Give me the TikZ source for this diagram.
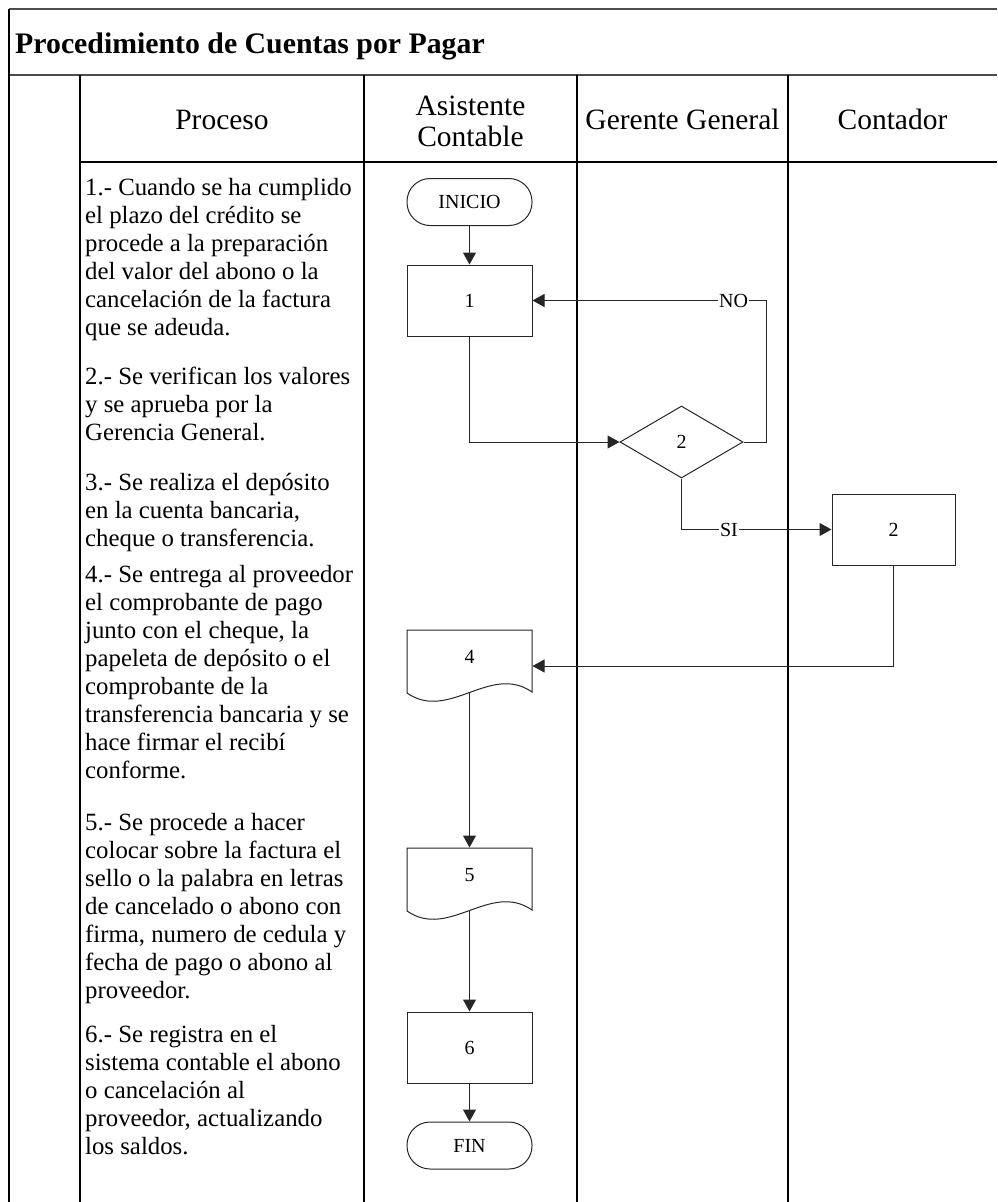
\documentclass[tikz,border=0pt]{standalone}
\usepackage{fontspec}
\setmainfont{Liberation Serif}
\usetikzlibrary{shapes.geometric,arrows.meta,calc}

\begin{document}
\begin{tikzpicture}[x=1pt,y=-1pt,
  grid/.style={line width=1.2pt,draw=black},
  framerule/.style={line width=1.8pt,draw=black!70},
  flow/.style={draw=black!85,line width=1pt,font=\fontsize{20}{22}\selectfont,inner sep=0pt},
  procbox/.style={flow,rectangle,minimum width=125pt,minimum height=71pt},
  termbox/.style={flow,rectangle,rounded corners=23pt,minimum width=125pt,minimum height=47pt},
  decbox/.style={flow,diamond,minimum width=123pt,minimum height=72pt},
  docbox/.style={flow,draw=none,rectangle,minimum width=125pt,minimum height=72pt,text height=13pt,text depth=18pt},
  docline/.style={draw=black!85,line width=1pt},
  arr/.style={draw=black!85,line width=1pt,-{Triangle[length=12pt,width=13pt]}},
  lbl/.style={fill=white,inner sep=1pt,font=\fontsize{20}{22}\selectfont},
  steptext/.style={anchor=north west,inner sep=0pt,align=left,font=\fontsize{24.8}{28}\selectfont},
  headtext/.style={inner sep=0pt,align=center,font=\fontsize{29.5}{31}\selectfont},
]
\useasboundingbox (0,0) rectangle (997,1202);

% table frame and swimlane rules
\draw[framerule] (9,9) -- (997,9);
\draw[framerule] (9,75) -- (997,75);
\draw[grid] (80,162) -- (997,162);
\draw[grid] (9,9) -- (9,1202);
\draw[grid] (80,75) -- (80,1202);
\draw[grid] (364,75) -- (364,1202);
\draw[grid] (577,75) -- (577,1202);
\draw[grid] (788,75) -- (788,1202);

% title and column headings
\node[anchor=base west,inner sep=0pt,font=\bfseries\fontsize{29.8}{32}\selectfont] (title) at (15,53) {Procedimiento de Cuentas por Pagar};
\node[headtext,anchor=base] (hproc) at (222,129) {Proceso};
\node[headtext,anchor=north] (hasist) at (470.5,93.3) {\strut Asistente\\Contable};
\node[headtext,anchor=base] (hgg) at (682.5,129) {Gerente General};
\node[headtext,anchor=base] (hcont) at (892.5,129) {Contador};

% process description
\node[steptext] (s1) at (85,175.4) {\strut 1.- Cuando se ha cumplido\\el plazo del crédito se\\procede a la preparación\\del valor del abono o la\\cancelación de la factura\\que se adeuda.};
\node[steptext] (s2) at (85,364.4) {\strut 2.- Se verifican los valores\\y se aprueba por la\\Gerencia General.};
\node[steptext] (s3) at (85,470.4) {\strut 3.- Se realiza el depósito\\en la cuenta bancaria,\\cheque o transferencia.};
\node[steptext] (s4) at (85,562.4) {\strut 4.- Se entrega al proveedor\\el comprobante de pago\\junto con el cheque, la\\papeleta de depósito o el\\comprobante de la\\transferencia bancaria y se\\hace firmar el recibí\\conforme.};
\node[steptext] (s5) at (85,810.4) {\strut 5.- Se procede a hacer\\colocar sobre la factura el\\sello o la palabra en letras\\de cancelado o abono con\\firma, numero de cedula y\\fecha de pago o abono al\\proveedor.};
\node[steptext] (s6) at (85,1022.4) {\strut 6.- Se registra en el\\sistema contable el abono\\o cancelación al\\proveedor, actualizando\\los saldos.};

% flowchart symbols
\node[termbox] (ini) at (469.5,202) {INICIO};
\node[procbox] (b1) at (469.5,300.5) {1};
\node[decbox] (dec) at (681.5,442) {2};
\node[procbox,minimum width=123pt] (b2) at (893.5,529.5) {2};
\node[docbox] (d4) at (469.5,666) {4};
\node[docbox] (d5) at (469.5,884) {5};
\node[procbox] (b6) at (469.5,1047.5) {6};
\node[termbox] (fin) at (469.5,1145.5) {FIN};

% document outlines with wavy lower edge
\foreach \d in {d4,d5}
  \draw[docline] ($(\d.center)+(-62.5,27)$) -- ($(\d.center)+(-62.5,-36)$)
    -- ($(\d.center)+(62.5,-36)$) -- ($(\d.center)+(62.5,26)$)
    .. controls ($(\d.center)+(20.8,-3)$) and ($(\d.center)+(-20.8,56)$) .. ($(\d.center)+(-62.5,27)$) -- cycle;

% connectors
\path (dec.east) ++(23,0) coordinate (decout);
\coordinate (nocorner) at (decout |- b1.east);
\draw[arr] (ini) -- (b1);
\draw[arr] (b1.south) |- (dec.west);
\draw[arr] (dec.east) -- (decout) -- (nocorner) -- node[lbl,pos=0.141] (lno) {NO} (b1.east);
\draw[arr] (dec.south) |- node[lbl,pos=0.658] (lsi) {SI} (b2.west);
\draw[arr] (b2.south) |- (d4.east);
\draw[arr] ([yshift=-27pt]d4.center) -- (d5.north);
\draw[arr] ([yshift=-27pt]d5.center) -- (b6.north);
\draw[arr] (b6) -- (fin);
\end{tikzpicture}
\end{document}
